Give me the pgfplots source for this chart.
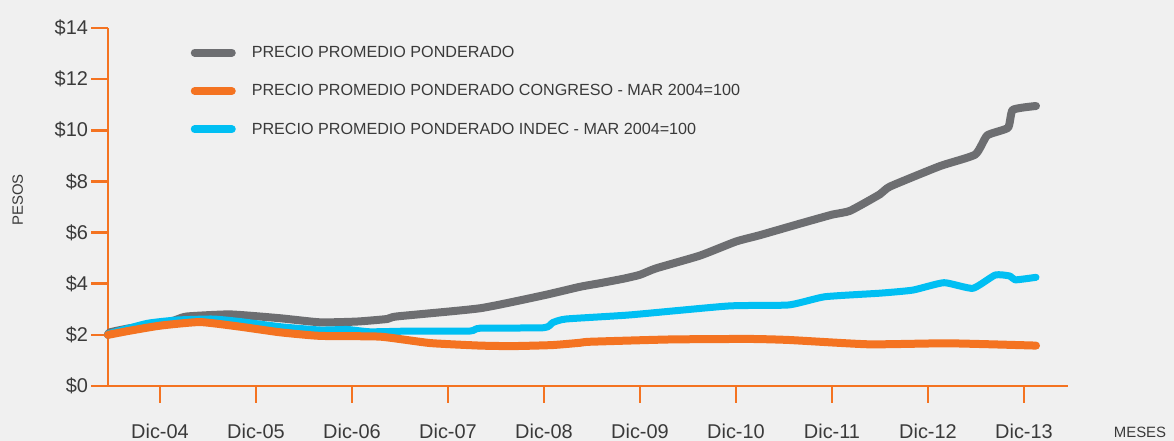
\documentclass[border=0pt]{standalone}
\usepackage{fontspec}
\setmainfont{Liberation Sans}
\usepackage{pgfplots}
\pgfplotsset{compat=1.18}
\definecolor{bg}{HTML}{F0F0F0}
\definecolor{gris}{HTML}{6D6E71}
\definecolor{naranja}{HTML}{F47321}
\definecolor{celeste}{HTML}{00BFF3}
\definecolor{txt}{HTML}{3A3A3A}
\begin{document}
\begin{tikzpicture}
\fill[bg] (-108bp,-55bp) rectangle (1066bp,386bp);
\begin{axis}[
  at={(0,0)}, anchor=south west,
  scale only axis, width=960bp, height=358bp,
  xmin=5.5, xmax=125.5, ymin=0, ymax=14,
  clip=false,
  axis x line*=bottom, axis y line*=left,
  axis line style={naranja, line width=2.5bp, -},
  every tick/.style={naranja, line width=2.5bp},
  tick align=outside,
  major tick length=16.5bp,
  ytick={0,2,4,6,8,10,12,14},
  yticklabels={\$0,\$2,\$4,\$6,\$8,\$10,\$12,\$14},
  xtick={12,24,36,48,60,72,84,96,108,120},
  xticklabels={Dic-04,Dic-05,Dic-06,Dic-07,Dic-08,Dic-09,Dic-10,Dic-11,Dic-12,Dic-13},
  yticklabel style={font=\fontsize{20}{24}\selectfont, text=txt, anchor=east, xshift=0bp},
  xticklabel style={font=\fontsize{20}{24}\selectfont, text=txt, anchor=north, yshift=-18bp},
  xlabel={MESES},
  xlabel style={at={(axis description cs:1.075,0)}, anchor=center, yshift=-46bp, font=\fontsize{15}{18}\selectfont, text=txt},
  ylabel={PESOS},
  ylabel style={at={(axis description cs:-0.094,0.52)}, anchor=center, font=\fontsize{15}{18}\selectfont, text=txt},
  legend style={at={(axis description cs:0.086,0.955)}, anchor=north west, draw=none, fill=none,
    font=\fontsize{16.2}{19}\selectfont, text=txt, row sep=21.5bp, column sep=14bp, inner sep=0pt},
  legend cell align=left,
  legend image code/.code={\draw[#1, line cap=round] (4bp,0bp) -- (41bp,0bp);},
]
\addlegendimage{gris, line width=8bp}
\addlegendentry{PRECIO PROMEDIO PONDERADO}
\addlegendimage{naranja, line width=8bp}
\addlegendentry{PRECIO PROMEDIO PONDERADO CONGRESO - MAR 2004=100}
\addlegendimage{celeste, line width=8bp}
\addlegendentry{PRECIO PROMEDIO PONDERADO INDEC - MAR 2004=100}

\addplot[gris, line width=8bp, line cap=round, line join=round, smooth, tension=0.3, forget plot] coordinates {
(5.5,2.0) (5.75,2.1) (8.25,2.26) (12,2.38) (14.1,2.6) (15.4,2.72) (20.75,2.8) (27,2.65)
(32,2.49) (36.6,2.52) (40.4,2.62) (41.6,2.72) (52,3.04) (60,3.55) (64.5,3.88) (67,4.02)
(70,4.2) (72,4.35) (74,4.6) (79.5,5.1) (84,5.65) (87,5.9) (92,6.35) (96,6.7) (98.25,6.85)
(102,7.5) (103.25,7.8) (109.5,8.6) (113.9,9.05) (115.4,9.8) (118,10.1) (118.6,10.8) (121.5,10.95)
};
\addplot[celeste, line width=7bp, line cap=round, line join=round, smooth, tension=0.3, forget plot] coordinates {
(5.5,2.0) (5.75,2.06) (10.4,2.45) (14.1,2.58) (18.6,2.62) (22,2.52) (27,2.32) (32,2.19)
(35.4,2.21) (38.25,2.12) (43.6,2.15) (50.75,2.15) (52,2.26) (60,2.28) (61.1,2.48) (62.75,2.62)
(70.75,2.78) (83.1,3.13) (90.6,3.17) (95.1,3.49) (102,3.63) (106.1,3.75) (110,4.04) (113.6,3.82)
(116.4,4.34) (118.25,4.30) (118.9,4.15) (121.5,4.25)
};
\addplot[naranja, line width=8bp, line cap=round, line join=round, smooth, tension=0.3, forget plot] coordinates {
(5.5,2.0) (8,2.15) (12,2.36) (17,2.5) (22,2.32) (27,2.1) (32,1.96) (39.5,1.93) (45.75,1.68)
(52,1.58) (56,1.56) (61,1.6) (64.5,1.69) (65.75,1.73) (75.75,1.82) (85.6,1.84) (90.6,1.8)
(100.6,1.63) (110.5,1.67) (121.5,1.58)
};
\end{axis}
\pgfresetboundingbox
\path[use as bounding box] (-108bp,-55bp) rectangle (1066bp,386bp);
\end{tikzpicture}
\end{document}
